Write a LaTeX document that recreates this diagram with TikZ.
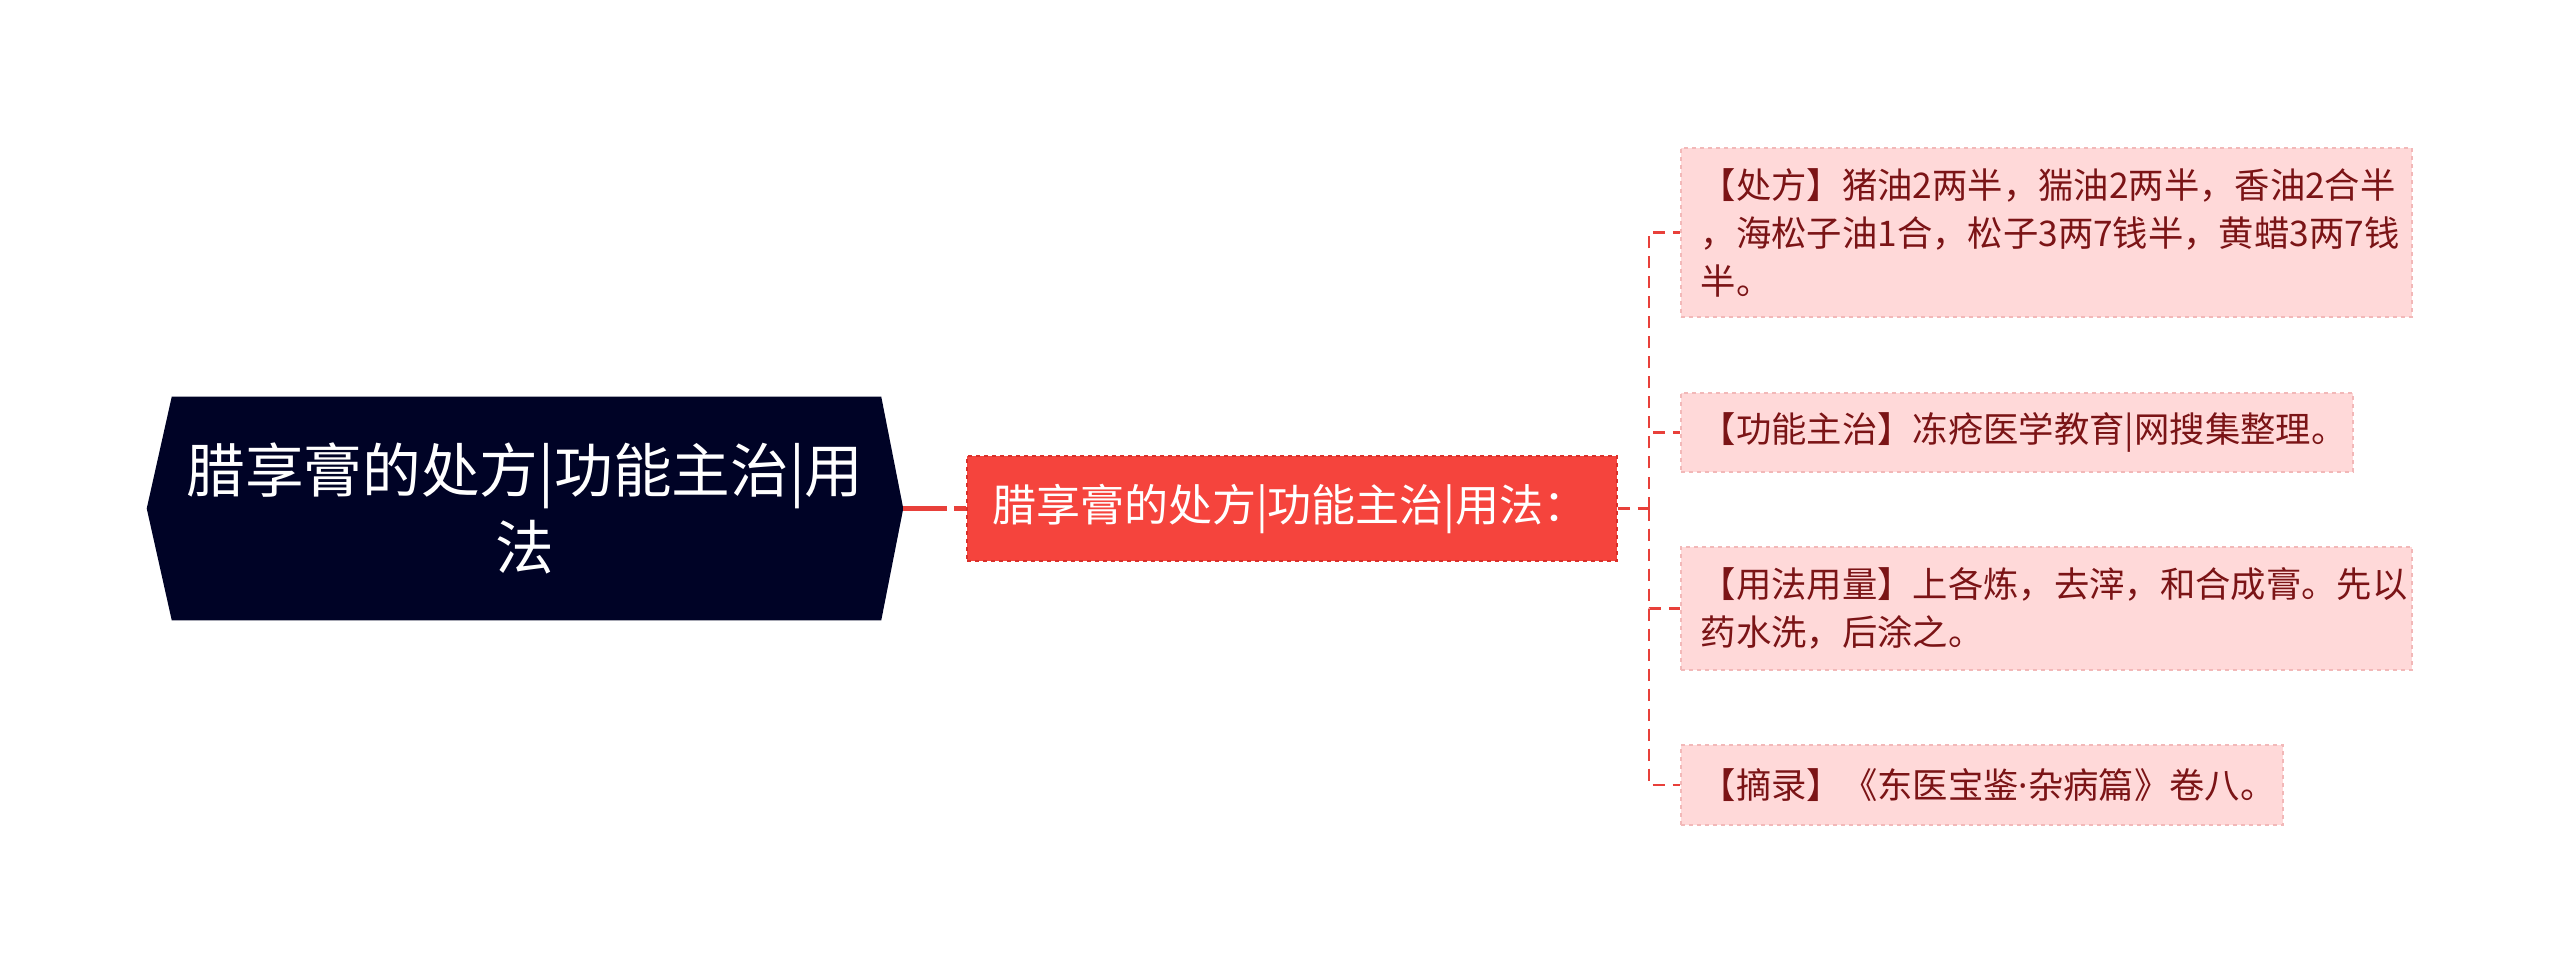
\documentclass[tikz,border=0pt]{standalone}
\usepackage{fontspec}
\setmainfont{Noto Sans CJK SC}
\newfontfamily\latinfont{Noto Sans}
\usetikzlibrary{backgrounds}
\newlength\px \setlength\px{0.75pt}
\definecolor{hexfill}{HTML}{000326}
\definecolor{redfill}{HTML}{F5443D}
\definecolor{redborder}{HTML}{D9302A}
\definecolor{redline}{HTML}{E8403A}
\definecolor{leaffill}{HTML}{FFD9D9}
\definecolor{leafline}{HTML}{F2B8B8}
\definecolor{leaftext}{HTML}{7B1416}
\tikzset{
  hexnode/.style={minimum width=756\px, minimum height=223\px, inner sep=0pt, text=white,
    font=\fontsize{44}{58}\selectfont, align=center},
  rednode/.style={text width=600\px, minimum height=105\px, inner xsep=25\px, inner ysep=0pt,
    align=left, fill=redfill, draw=redborder, dashed, line width=1pt, text=white,
    font=\fontsize{33}{40}\selectfont},
  leaf/.style={anchor=west, fill=leaffill, draw=leafline, dashed, line width=1.2pt, text=leaftext,
    align=left, inner xsep=20\px, inner ysep=0pt, font=\fontsize{26.5}{36}\selectfont},
  mainlink/.style={draw=redline, line width=3.5pt, dash pattern=on 33pt off 5pt},
  link/.style={draw=redline, line width=1.8pt, dash pattern=on 9pt off 6pt},
}
\begin{document}
\begin{tikzpicture}[x=0.75pt, y=-0.75pt]
\useasboundingbox (0,0) rectangle (2560,973);
\node[hexnode] (hex) at (525,508.5) {腊享膏的处方|功能主治|用\\法};
\begin{scope}[on background layer]
\fill[hexfill] (hex.west) -- ([xshift=25\px]hex.north west) -- ([xshift=-22\px]hex.north east)
  -- (hex.east) -- ([xshift=-22\px]hex.south east) -- ([xshift=25\px]hex.south west) -- cycle;
\end{scope}
\node[rednode] (red) at (1292,508.5) {腊享膏的处方|功能主治|用法：};
\node[leaf, text width=691\px, minimum height=169\px] (leaf1) at (1680,232.5)
  {【处方】猪油2两半，猯油2两半，香油2合半\\，海松子油1合，松子3两7钱半，黄蜡3两7钱\\半。};
\node[leaf, text width=632\px, minimum height=79\px] (leaf2) at (1680,432.5)
  {【功能主治】冻疮医学教育|网搜集整理。};
\node[leaf, text width=691\px, minimum height=123\px] (leaf3) at (1680,608.5)
  {【用法用量】上各炼，去滓，和合成膏。先以\\药水洗，后涂之。};
\node[leaf, text width=562\px, minimum height=80\px] (leaf4) at (1680,785)
  {【摘录】《东医宝鉴{\latinfont ·}杂病篇》卷八。};
\coordinate (tr) at (1649,508.5);
\draw[mainlink] (hex.east) -- (red.west);
\draw[link] (red.east) -- (tr);
\foreach \n in {leaf1,leaf2,leaf3,leaf4} \draw[link] (tr) |- (\n.west);
\end{tikzpicture}
\end{document}
